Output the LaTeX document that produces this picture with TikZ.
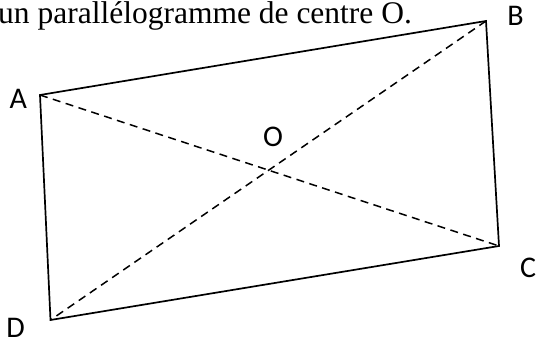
\documentclass[tikz,border=0pt]{standalone}
\usepackage{fontspec}
\setmainfont{Liberation Serif}
\newfontfamily\ptfont{Carlito}
\usepackage{tikz}
\usetikzlibrary{positioning}

\tikzset{
    ptlabel/.style={inner sep=0pt,font=\ptfont\fontsize{30}{36}\selectfont},
    side/.style={black,line width=1.7pt,line join=miter},
    diag/.style={black,line width=1.5pt,dash pattern=on 8pt off 5.5pt}
}

\begin{document}
\begin{tikzpicture}[x=1pt,y=1pt]
\useasboundingbox (0,0) rectangle (536,344);
\node[anchor=base west,inner sep=0pt,font=\fontsize{31.5}{36}\selectfont] (title) at (-2,320) {un parallélogramme de centre O.};
% sommets
\coordinate (A) at (40,249);
\coordinate (B) at (486,323);
\coordinate (C) at (499,98);
\coordinate (D) at (50.5,24);
% noms des points
\node[ptlabel] (lA) at (18.3,245.3) {A};
\node[ptlabel] (lB) at (515.5,328) {B};
\node[ptlabel] (lC) at (528,76.5) {C};
\node[ptlabel] (lD) at (15.7,16.3) {D};
\node[ptlabel] (lO) at (273,207) {O};
\draw[diag] (A) -- (C);
\draw[diag] (B) -- (D);
\draw[side] (A) -- (B) -- (C) -- (D) -- cycle;
\end{tikzpicture}
\end{document}
